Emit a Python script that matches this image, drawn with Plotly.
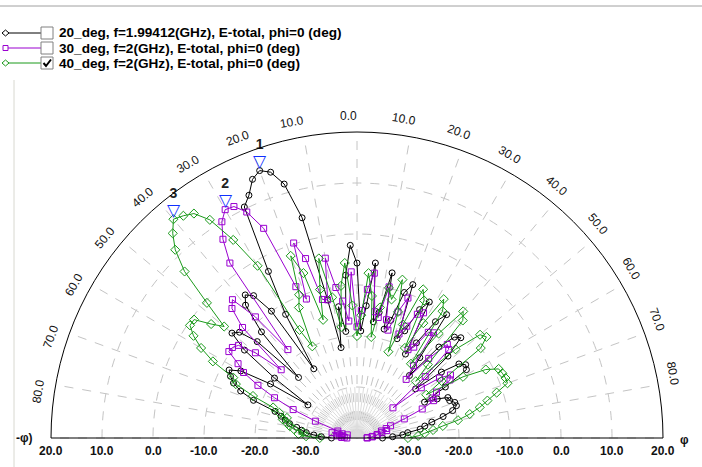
import math
import plotly.graph_objects as go

# ---------------- data ----------------
THETA = list(range(-90, 91, 2))  # degrees, left = negative

SERIES_NAMES = [
    "20_deg, f=1.99412(GHz), E-total, phi=0 (deg)",
    "30_deg, f=2(GHz), E-total, phi=0 (deg)",
    "40_deg, f=2(GHz), E-total, phi=0 (deg)",
]

R_20DEG = [
    -35, -33, -31.5, -30, -29, -28, -26.5, -25.5, -24.5, -23.1,
    -18.4, -15.4, -13.5, -12.4, -11.6, -13.7, -20, -28.4, -20, -12,
    -8, -9, -12.8, -23.5, -12, -6, -4.4, -5.5, -10, -24,
    -12, -3, 10.4, 12.1, 14.7, 15.8, 14.8, 11.8, 4.5, -12.3,
    -22, -14, -19, -8, -2.2, -5.7, -19, -14, -5.5, -17,
    -15, -6.9, -18, -16, -10, -8, -19, -17, -12, -9.8,
    -21, -18, -12.5, -10.1, -20, -24, -16, -12.5, -11.7, -16,
    -25, -19, -15.3, -14.3, -14.7, -20, -25, -22.5, -20.5, -20.4,
    -19.6, -19.5, -20.5, -22.6, -25, -26.5, -27.5, -30, -31, -33,
    -35,
]

R_30DEG = [
    -38, -37, -37.5, -36, -37, -36.5, -35, -36, -37, -38,
    -36, -31.2, -26.3, -22, -18, -14.3, -12.5, -9.7, -9.8, -10.5,
    -14, -20, -8.8, -4.7, -3.5, -9, -18, 2.4, 7, 10,
    11.7, 11.4, 9.3, 5, -8, -11, 0.2, -3.4, -12, -12.3,
    -4.2, -10.2, -13, -17, -7.4, -18.2, -15, -10.8, -7.5, -15,
    -16, -9.7, -16.1, -18, -14, -10.8, -18, -16, -13, -12.2,
    -20, -19, -15, -14.5, -22, -25, -19, -14.5, -15, -22,
    -30.8, -24, -20, -17.9, -18.5, -22, -23.3, -23.3, -26, -30,
    -33, -34, -35, -34, -35, -36, -36, -37, -37, -38,
    -38,
]

R_40DEG = [
    -32.7, -30, -28.5, -29.4, -27.5, -26.6, -26, -25, -25.7, -24,
    -22.5, -18, -14, -13, -8, -4.7, -2.2, -0.5, -0.5, -3.7,
    -6, -0.4, 7, 11.3, 14, 16, 15.3, 14.4, 11.6, 5.8,
    -1, -16, -20, -12, -9.7, -2, -6, -15.9, -10, -4,
    -12, -18, -10, -5.6, -14, -20, -15.9, -7.6, -12, -20,
    -14, -9.9, -12, -7.7, -14, -22, -16, -8.1, -10, -20,
    -14, -7.9, -10, -22, -14, -7.6, -9, -20, -24, -14,
    -8.5, -7.8, -10, -20, -24, -16, -11.4, -9.1, -8.8, -8.6,
    -8.6, -11.2, -13.4, -15.2, -17.4, -19.9, -23, -25, -26.7, -28,
    -30,
]

ANGLE_TICKS = list(range(-80, 81, 10))
RADIAL_TICKS = [-30, -20, -10, 0, 10, 20]
R_MIN, R_MAX = -40, 20

# ---------------- style ----------------
W, H = 702, 467
CX, CY, RAD = 357, 438, 306
COLORS = ["#000000", "#9a00d0", "#1a9a1a"]
SYMBOLS = ["circle-open", "square-open", "diamond-open"]
SIZES = [6, 6, 7]
GRID = "#c4c4c4"
FONT = "Liberation Sans, Arial, sans-serif"

fig = go.Figure()

# fine spokes near the centre (grid decoration)
sp_t, sp_r = [], []
for k in range(-90, 91, 5):
    if k % 10:
        sp_t += [k, k, None]
        sp_r += [R_MIN, -20, None]
fig.add_trace(go.Scatterpolar(theta=sp_t, r=sp_r, mode="lines",
                              line=dict(color=GRID, width=1, dash="dash"),
                              hoverinfo="skip", showlegend=False, connectgaps=False))
sp_t, sp_r = [], []
for k in [x / 2 for x in range(-180, 181, 5)]:
    if k % 5:
        sp_t += [k, k, None]
        sp_r += [R_MIN, -30, None]
fig.add_trace(go.Scatterpolar(theta=sp_t, r=sp_r, mode="lines",
                              line=dict(color="#dcdcdc", width=1),
                              hoverinfo="skip", showlegend=False, connectgaps=False))

for name, vals, col, sym, sz in zip(SERIES_NAMES, [R_20DEG, R_30DEG, R_40DEG], COLORS, SYMBOLS, SIZES):
    fig.add_trace(go.Scatterpolar(
        theta=THETA, r=vals, name=name, mode="lines+markers",
        line=dict(color=col, width=1),
        marker=dict(symbol=sym, size=sz, color=col, line=dict(color=col, width=1)),
        showlegend=False,
    ))

# peak markers 1,2,3
for i, vals in enumerate([R_20DEG, R_30DEG, R_40DEG]):
    j = max(range(len(vals)), key=lambda k: vals[k])
    fig.add_trace(go.Scatterpolar(
        theta=[THETA[j]], r=[vals[j]], mode="text",
        text=[f"<b>{i+1}</b><br><span style='color:#1030ff;font-size:17px'>▽</span>"],
        textposition="top center",
        textfont=dict(family=FONT, size=14, color="#222222"),
        showlegend=False, hoverinfo="skip",
    ))

annotations = []
# angular tick labels
for t in ANGLE_TICKS:
    a = math.radians(t)
    px = CX + (RAD + 16) * math.sin(a) - 9 * math.cos(a)
    py = CY - (RAD + 16) * math.cos(a) - 9 * math.sin(a)
    annotations.append(dict(x=px / W, y=1 - py / H, xref="paper", yref="paper",
                            text=f"{abs(t):.1f}", showarrow=False, textangle=t,
                            xanchor="center", yanchor="middle",
                            font=dict(family=FONT, size=12, color="#111111")))
# radial tick labels (both sides)
for v in RADIAL_TICKS:
    d = (v - R_MIN) / (R_MAX - R_MIN) * RAD
    for side in (-1, 1):
        annotations.append(dict(x=(CX + side * d) / W, y=1 - 451 / H, xref="paper", yref="paper",
                                text=f"<b>{v:.1f}</b>", showarrow=False,
                                xanchor="center", yanchor="middle",
                                font=dict(family=FONT, size=12, color="#111111")))
annotations.append(dict(x=24 / W, y=1 - 438 / H, xref="paper", yref="paper", text="<b>-φ)</b>",
                        showarrow=False, xanchor="center", yanchor="middle",
                        font=dict(family=FONT, size=12, color="#111111")))
annotations.append(dict(x=684 / W, y=1 - 440 / H, xref="paper", yref="paper", text="<b>φ</b>",
                        showarrow=False, xanchor="center", yanchor="middle",
                        font=dict(family=FONT, size=12, color="#111111")))

# legend (drawn)
shapes = []
LEG_Y = [33, 48, 63]
for i, (name, col) in enumerate(zip(SERIES_NAMES, COLORS)):
    y = LEG_Y[i]
    shapes.append(dict(type="line", xref="paper", yref="paper", x0=6 / W, x1=41 / W,
                       y0=1 - y / H, y1=1 - y / H, line=dict(color=col, width=1)))
    if i == 1:
        shapes.append(dict(type="rect", xref="paper", yref="paper", x0=3 / W, x1=8 / W,
                           y0=1 - (y + 2.5) / H, y1=1 - (y - 2.5) / H,
                           line=dict(color=col, width=1), fillcolor="white"))
    else:
        shapes.append(dict(type="path", xref="paper", yref="paper",
                           path=f"M {2/W},{1-y/H} L {5.5/W},{1-(y-3)/H} L {9/W},{1-y/H} L {5.5/W},{1-(y+3)/H} Z",
                           line=dict(color=col, width=1), fillcolor="white"))
    # checkbox
    shapes.append(dict(type="rect", xref="paper", yref="paper", x0=41 / W, x1=53 / W,
                       y0=1 - (y + 6) / H, y1=1 - (y - 6) / H,
                       line=dict(color="#808080", width=1), fillcolor="white"))
    if i == 2:
        shapes.append(dict(type="path", xref="paper", yref="paper",
                           path=f"M {43.5/W},{1-y/H} L {46/W},{1-(y+3)/H} L {51/W},{1-(y-3.5)/H}",
                           line=dict(color="black", width=2)))
    annotations.append(dict(x=57 / W, y=1 - y / H, xref="paper", yref="paper",
                            text=f"<b>{name}</b>", showarrow=False, xanchor="left", yanchor="middle",
                            font=dict(family=FONT, size=13.6, color="#000000")))

# window frame lines
shapes.append(dict(type="line", xref="paper", yref="paper", x0=0, x1=1, y0=1 - 6 / H, y1=1 - 6 / H,
                   line=dict(color="#a0a0a0", width=1)))
shapes.append(dict(type="line", xref="paper", yref="paper", x0=14 / W, x1=14 / W, y0=0, y1=1 - 80 / H,
                   line=dict(color="#d8d8d0", width=1)))

fig.update_layout(
    width=W, height=H, margin=dict(l=0, r=0, t=0, b=0),
    paper_bgcolor="white", plot_bgcolor="white", showlegend=False,
    font=dict(family=FONT),
    polar=dict(
        domain=dict(x=[(CX - RAD) / W, (CX + RAD) / W], y=[(H - CY) / H, (H - CY + RAD) / H]),
        sector=[0, 180], bgcolor="white",
        radialaxis=dict(range=[R_MIN, R_MAX], tickvals=RADIAL_TICKS[:-1], showticklabels=False,
                        showline=False, ticks="", gridcolor=GRID, griddash="dash", gridwidth=1, angle=0),
        angularaxis=dict(rotation=90, direction="clockwise", thetaunit="degrees",
                         tickvals=list(range(-90, 91, 10)), showticklabels=False, ticks="",
                         showline=True, linecolor="black", linewidth=1,
                         gridcolor=GRID, griddash="dash", gridwidth=1),
    ),
    annotations=annotations, shapes=shapes,
)

fig.write_html("out.html", config={"displayModeBar": False},
               post_script="document.body.style.margin='0px';document.body.style.overflow='hidden';")
